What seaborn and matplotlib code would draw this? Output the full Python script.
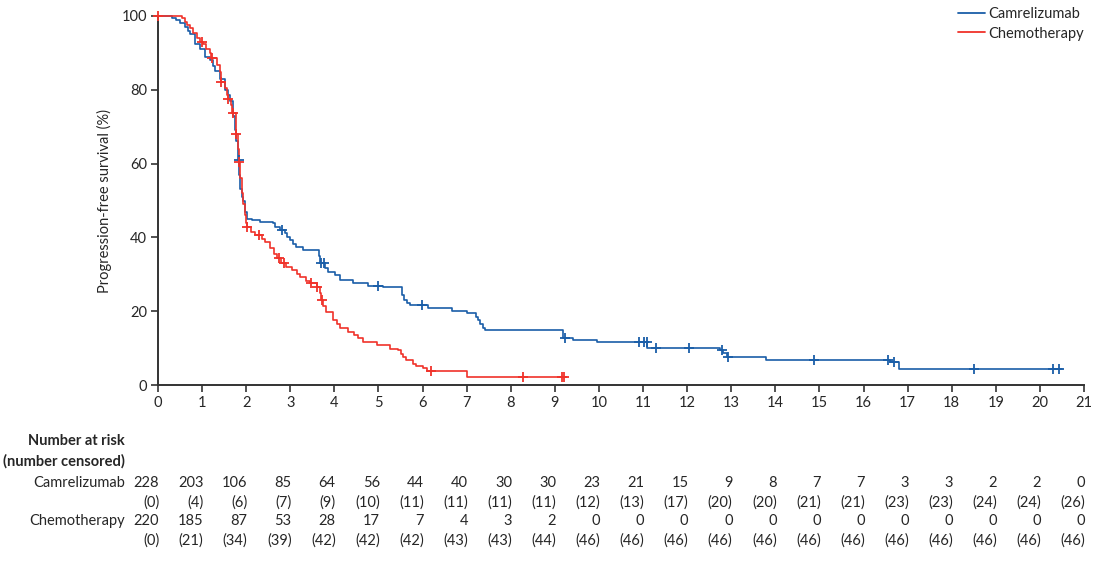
import numpy as np
import pandas as pd
import matplotlib
matplotlib.use("Agg")
import matplotlib.pyplot as plt
import matplotlib.transforms as mtransforms
from matplotlib.lines import Line2D
import seaborn as sns

sns.set_style("white")
plt.rcParams["font.family"] = ["Lato", "DejaVu Sans"]
plt.rcParams["font.size"] = 10.5

# --- KM step points (months, % progression-free)
cam_t = [0, 0.32, 0.41, 0.50, 0.61, 0.68, 0.73, 0.84, 0.95, 1.07,
         1.18, 1.25, 1.29, 1.41, 1.52, 1.59, 1.63, 1.70, 1.75, 1.77,
         1.81, 1.84, 1.86, 1.90, 1.93, 1.97, 2.02, 2.13, 2.31, 2.61,
         2.65, 2.77, 2.88, 2.93, 2.99, 3.06, 3.13, 3.29, 3.65, 3.67,
         3.79, 3.85, 4.01, 4.13, 4.42, 4.76, 5.10, 5.53, 5.58, 5.65,
         5.71, 6.12, 6.28, 6.67, 7.01, 7.21, 7.26, 7.30, 7.37, 7.41,
         9.18, 9.41, 9.95, 11.09, 12.74, 12.81, 12.90, 13.78, 16.60, 16.80]
cam_s = [100, 99.5, 99, 98, 97, 96, 95, 92.5, 91, 89,
         88, 86.5, 85, 83, 80, 78.5, 77, 73, 69, 66,
         61, 57, 53, 51, 50, 47, 45, 44.7, 44.2, 43.9,
         42.8, 42.0, 41.2, 40.2, 39.3, 38.3, 37.4, 36.6, 35.0, 33.0,
         31.7, 30.6, 29.8, 28.5, 27.7, 26.8, 26.5, 24.5, 23.0, 22.2,
         21.7, 21.0, 20.8, 20.0, 19.6, 18.5, 17.5, 16.5, 15.5, 14.8,
         12.7, 12.2, 11.6, 10.1, 9.5, 8.7, 7.7, 6.8, 6.2, 4.3]
cam_censor = [1.83, 2.82, 3.69, 3.76, 4.99, 5.99, 9.24, 10.90, 11.03, 11.08,
              11.30, 12.05, 12.78, 12.92, 14.88, 16.55, 16.70, 18.50, 20.30, 20.43]
cam_end = 20.5

chemo_t = [0, 0.54, 0.62, 0.66, 0.73, 0.80, 0.88, 0.95, 1.02, 1.10,
           1.18, 1.20, 1.34, 1.41, 1.42, 1.52, 1.56, 1.58, 1.65, 1.68,
           1.77, 1.78, 1.81, 1.84, 1.87, 1.90, 1.93, 1.97, 2.00, 2.02,
           2.10, 2.20, 2.35, 2.43, 2.55, 2.62, 2.70, 2.80, 2.90, 3.04,
           3.15, 3.22, 3.35, 3.45, 3.60, 3.67, 3.70, 3.75, 3.82, 3.96,
           4.05, 4.12, 4.30, 4.45, 4.53, 4.65, 4.96, 5.26, 5.44, 5.50,
           5.55, 5.62, 5.78, 5.85, 6.00, 6.10, 7.00]
chemo_s = [100, 99.5, 98.5, 97.6, 96.7, 95.4, 94, 93, 92.4, 91,
           90, 88.6, 86.7, 84.8, 82, 80.5, 78.5, 77.5, 76, 73.7,
           71, 68, 64, 60.4, 56, 52, 49, 46, 44, 42.8,
           41.5, 40.7, 39.5, 38.8, 37.1, 35.5, 34.4, 33, 32, 31.2,
           30.2, 29.3, 28.3, 27.6, 26.6, 25, 23, 21.5, 19.8, 17.6,
           16.5, 15.4, 14.4, 13.5, 12.7, 11.7, 10.8, 9.8, 9.5, 8.5,
           7.5, 6.8, 5.8, 5.1, 4.6, 3.8, 2.3]
chemo_censor = [0.0, 1.00, 1.22, 1.43, 1.59, 1.70, 1.78, 1.84, 2.02, 2.29,
                2.74, 2.86, 3.47, 3.61, 3.72, 6.19, 8.28, 9.17, 9.20]
chemo_end = 9.22

# --- Number at risk table
risk_times = list(range(0, 22))
cam_risk = [228, 203, 106, 85, 64, 56, 44, 40, 30, 30, 23, 21, 15, 9, 8, 7, 7, 3, 3, 2, 2, 0]
cam_ncens = [0, 4, 6, 7, 9, 10, 11, 11, 11, 11, 12, 13, 17, 20, 20, 21, 21, 23, 23, 24, 24, 26]
chemo_risk = [220, 185, 87, 53, 28, 17, 7, 4, 3, 2] + [0] * 12
chemo_ncens = [0, 21, 34, 39, 42, 42, 42, 43, 43, 44] + [46] * 12

arms = ["Camrelizumab", "Chemotherapy"]
colors = {"Camrelizumab": "#1a5ea8", "Chemotherapy": "#f0322a"}


def curve_frame(name, t, s, end):
    t = list(t) + [end]
    s = list(s) + [s[-1]]
    return pd.DataFrame({"arm": name, "time": t, "surv": s})


def censor_frame(name, t, s, ct):
    idx = np.searchsorted(np.array(t), np.array(ct), side="right") - 1
    return pd.DataFrame({"arm": name, "time": ct, "surv": np.array(s)[idx]})


curves = pd.concat([curve_frame("Camrelizumab", cam_t, cam_s, cam_end),
                    curve_frame("Chemotherapy", chemo_t, chemo_s, chemo_end)])
censors = pd.concat([censor_frame("Camrelizumab", cam_t, cam_s, cam_censor),
                     censor_frame("Chemotherapy", chemo_t, chemo_s, chemo_censor)])

fig = plt.figure(figsize=(11.11, 5.61), dpi=100)
ax = fig.add_axes([0.1422, 0.3137, 0.8335, 0.6578])

for arm in arms:
    d = curves[curves["arm"] == arm]
    sns.lineplot(data=d, x="time", y="surv", ax=ax, color=colors[arm],
                 estimator=None, sort=False, drawstyle="steps-post",
                 linewidth=1.2, clip_on=False, legend=False)
    c = censors[censors["arm"] == arm]
    sns.scatterplot(data=c, x="time", y="surv", ax=ax, color=colors[arm],
                    marker="+", s=55, linewidth=1.3, clip_on=False,
                    legend=False, zorder=3)

ax.set_xlim(0, 21)
ax.set_ylim(0, 100)
ax.set_xticks(range(0, 22))
ax.set_yticks(range(0, 101, 20))
ax.set_xlabel("")
ax.set_ylabel("Progression-free survival (%)", labelpad=7)
for side in ["top", "right"]:
    ax.spines[side].set_visible(False)
for side in ["left", "bottom"]:
    ax.spines[side].set_color("#333333")
    ax.spines[side].set_linewidth(1.4)
ax.tick_params(axis="both", direction="out", length=5, width=1.2,
               color="#333333", labelsize=10.5, pad=3, left=True, bottom=True)

handles = [Line2D([], [], color=colors[a], linewidth=1.3) for a in arms]
ax.legend(handles, arms, loc="upper right", bbox_to_anchor=(1.0, 1.025),
          frameon=False, fontsize=10.5, handlelength=1.85, handletextpad=0.25,
          labelspacing=0.4, borderpad=0, borderaxespad=0)

# --- risk table under the axis
tr = mtransforms.blended_transform_factory(ax.transData, fig.transFigure)
label_x = 125 / 1111
fig.text(label_x, 1 - 441 / 561, "Number at risk", ha="right", va="center",
         fontweight="bold")
fig.text(label_x, 1 - 461 / 561, "(number censored)", ha="right", va="center",
         fontweight="bold")
rows = [("Camrelizumab", cam_risk, cam_ncens, 483, 503),
        ("Chemotherapy", chemo_risk, chemo_ncens, 521, 541)]
for name, risk, ncens, y1, y2 in rows:
    fig.text(label_x, 1 - y1 / 561, name, ha="right", va="center")
    for t, n, c in zip(risk_times, risk, ncens):
        ax.text(t + 0.03, 1 - y1 / 561, str(n), transform=tr, ha="right",
                va="center")
        ax.text(t + 0.03, 1 - y2 / 561, f"({c})", transform=tr, ha="right",
                va="center")

fig.savefig("out.png", dpi=100)
